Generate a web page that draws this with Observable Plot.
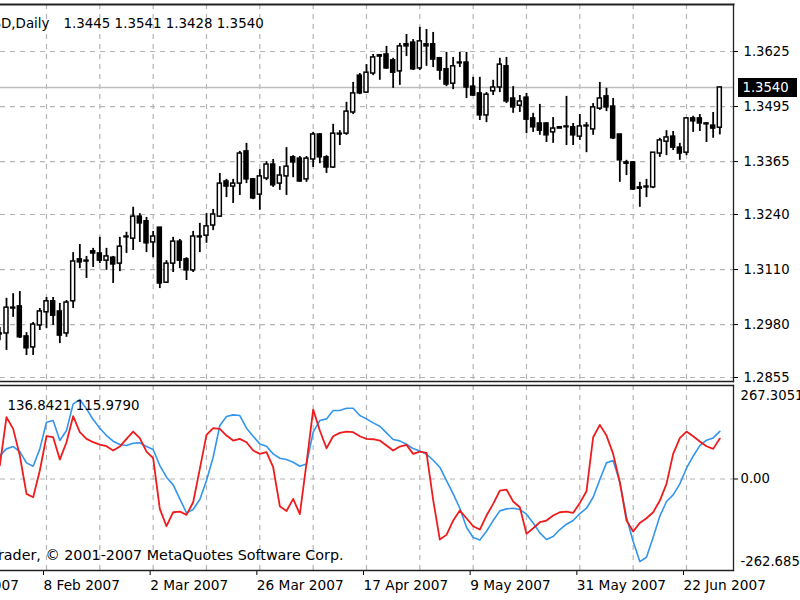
<!DOCTYPE html>
<html><head><meta charset="utf-8">
<script src="https://cdn.jsdelivr.net/npm/d3@7"></script>
<script src="https://cdn.jsdelivr.net/npm/@observablehq/plot@0.6"></script>
<style>
html,body{margin:0;padding:0;background:#fff;}
#wrap{position:relative;width:800px;height:600px;overflow:hidden;background:#fff;}
#top{position:absolute;left:0;top:0;}
#bot{position:absolute;left:0;top:383px;}
</style></head><body>
<div id="wrap"><div id="top"></div><div id="bot"></div></div>
<script>
// ---- EURUSD daily candles (bar 0 = 30 Jan 2007 ... bar 108 = 29 Jun 2007) ----
const opens = [1.2959,1.2959,1.3020,1.3023,1.2952,1.2926,1.2978,1.3009,1.3035,1.3011,
1.2959,1.3035,1.3134,1.3129,1.3153,1.3148,1.3131,1.3138,1.3124,1.3186,
1.3183,1.3235,1.3224,1.3174,1.3209,1.3079,1.3124,1.3176,1.3134,1.3108,
1.3186,1.3190,1.3214,1.3235,1.3318,1.3306,1.3313,1.3389,1.3323,1.3287,
1.3325,1.3358,1.3313,1.3330,1.3375,1.3372,1.3323,1.3370,1.3429,1.3375,
1.3351,1.3431,1.3431,1.3481,1.3568,1.3528,1.3573,1.3613,1.3618,1.3604,
1.3578,1.3642,1.3646,1.3585,1.3642,1.3642,1.3609,1.3583,1.3549,1.3599,
1.3599,1.3542,1.3526,1.3474,1.3531,1.3540,1.3590,1.3514,1.3497,1.3516,
1.3467,1.3455,1.3455,1.3434,1.3443,1.3448,1.3446,1.3424,1.3450,1.3441,
1.3490,1.3519,1.3495,1.3429,1.3363,1.3363,1.3304,1.3304,1.3304,1.3384,
1.3412,1.3424,1.3398,1.3386,1.3467,1.3467,1.3455,1.3450,1.3445];
const highs = [1.2973,1.3042,1.3053,1.3058,1.2961,1.2985,1.3018,1.3044,1.3044,1.3030,
1.3037,1.3150,1.3169,1.3141,1.3160,1.3186,1.3160,1.3141,1.3186,1.3198,
1.3257,1.3242,1.3233,1.3200,1.3209,1.3131,1.3186,1.3181,1.3138,1.3200,
1.3219,1.3242,1.3252,1.3337,1.3323,1.3323,1.3389,1.3408,1.3325,1.3346,
1.3365,1.3370,1.3353,1.3398,1.3379,1.3377,1.3377,1.3434,1.3431,1.3379,
1.3453,1.3438,1.3505,1.3552,1.3573,1.3594,1.3618,1.3618,1.3637,1.3609,
1.3644,1.3665,1.3653,1.3682,1.3677,1.3670,1.3611,1.3623,1.3611,1.3623,
1.3623,1.3564,1.3564,1.3528,1.3557,1.3609,1.3611,1.3542,1.3521,1.3526,
1.3479,1.3500,1.3457,1.3469,1.3448,1.3519,1.3455,1.3476,1.3457,1.3502,
1.3552,1.3538,1.3514,1.3429,1.3368,1.3365,1.3316,1.3323,1.3386,1.3420,
1.3438,1.3436,1.3408,1.3469,1.3472,1.3476,1.3457,1.3481,1.3541];
const lows = [1.2942,1.2919,1.2997,1.2947,1.2907,1.2907,1.2966,1.2971,1.2978,1.2935,
1.2950,1.3018,1.3112,1.3089,1.3115,1.3124,1.3108,1.3077,1.3105,1.3148,
1.3155,1.3174,1.3150,1.3138,1.3065,1.3077,1.3103,1.3112,1.3084,1.3103,
1.3150,1.3172,1.3202,1.3233,1.3280,1.3266,1.3285,1.3313,1.3275,1.3250,
1.3320,1.3304,1.3297,1.3285,1.3327,1.3316,1.3316,1.3351,1.3360,1.3337,
1.3349,1.3403,1.3427,1.3476,1.3523,1.3526,1.3568,1.3557,1.3583,1.3538,
1.3545,1.3613,1.3580,1.3580,1.3590,1.3587,1.3557,1.3542,1.3535,1.3587,
1.3514,1.3519,1.3462,1.3457,1.3521,1.3528,1.3502,1.3479,1.3481,1.3431,
1.3434,1.3427,1.3410,1.3408,1.3443,1.3403,1.3403,1.3415,1.3386,1.3427,
1.3486,1.3483,1.3417,1.3316,1.3332,1.3297,1.3257,1.3280,1.3301,1.3375,
1.3379,1.3391,1.3368,1.3379,1.3434,1.3436,1.3410,1.3420,1.3428];
const closes = [1.2957,1.3020,1.3018,1.2950,1.2924,1.2980,1.3011,1.3035,1.3001,1.2954,
1.3032,1.3129,1.3127,1.3131,1.3148,1.3131,1.3141,1.3122,1.3164,1.3188,
1.3235,1.3219,1.3172,1.3188,1.3077,1.3124,1.3176,1.3131,1.3108,1.3188,
1.3188,1.3212,1.3240,1.3313,1.3306,1.3313,1.3384,1.3323,1.3278,1.3330,
1.3358,1.3309,1.3332,1.3353,1.3363,1.3318,1.3372,1.3429,1.3375,1.3351,
1.3431,1.3429,1.3483,1.3526,1.3526,1.3575,1.3611,1.3616,1.3585,1.3575,
1.3637,1.3637,1.3583,1.3649,1.3637,1.3606,1.3580,1.3547,1.3590,1.3597,
1.3540,1.3521,1.3474,1.3523,1.3540,1.3594,1.3507,1.3493,1.3507,1.3464,
1.3446,1.3438,1.3427,1.3443,1.3446,1.3446,1.3427,1.3448,1.3448,1.3493,
1.3514,1.3493,1.3420,1.3368,1.3360,1.3299,1.3301,1.3306,1.3386,1.3415,
1.3422,1.3398,1.3384,1.3467,1.3460,1.3455,1.3453,1.3443,1.3540];

// ---- CCI indicator lines ----
const cciBlue = [67.3,86.5,93.2,78.8,46.3,36.7,86.5,163,167.8,110.4,
139.1,215.7,228.1,201.3,170.7,145.8,124.7,108.5,98.9,96,
102.7,103.7,93.2,84.6,38.6,5.1,-16.9,-57.1,-97.3,-87.7,
-59,-4.4,62.5,153.5,179.3,184.1,182.2,145.8,122.8,100.8,
94.1,72.1,59.7,55.8,48.2,36.7,43.4,134.3,167.8,172.6,
196.5,196.5,203.2,203.2,182.2,172.6,161.1,151.5,132.4,113.3,
109.4,99.9,87.4,80.7,71.2,53.9,33.8,-4.4,-42.7,-83.9,
-138.4,-168.1,-174.8,-149.9,-119.3,-91.5,-85.8,-83.9,-87.7,-101.1,
-126,-154.7,-173.8,-165.2,-145.1,-129.8,-119.3,-99.2,-83.9,-52.3,
-1.6,46.3,53,-9.2,-109.7,-179.6,-237,-224.6,-167.1,-106.8,
-64.7,-45.6,-14,31,65.4,96,111.4,118,136.8421];
const cciRed = [39,177.4,143.9,67.3,-42.7,-52.3,24.3,122.8,120,55.8,
105.6,180.3,134.3,115.2,105.6,98.9,94.1,81.7,93.2,115.2,
136.2,117.1,78.8,59.7,-85.8,-135.6,-95.4,-93.4,-103,-66.7,
29,126.7,145.8,143.9,124.7,110.4,115.2,105.6,81.7,72.1,
76.9,33.8,-78,-92,-57,-101,45,199.4,139.1,88.4,
122.8,132.4,136.2,134.3,122.8,115.2,114.2,110.4,96,81.7,
93.2,98,72.1,78.8,75,-60,-173.8,-160.4,-119.3,-90.6,
-112.6,-135.6,-145.1,-104.9,-71.4,-33.2,-30.3,-64.7,-81,-157.6,
-141.3,-124.1,-119.3,-104.9,-95.4,-93.4,-97.3,-68.6,-35,120,
155.4,124.7,72.1,-9.2,-119.3,-150.9,-126,-112.6,-95.4,-61.9,
-14,72.1,117.1,136.2,122.8,107.5,94.1,86.5,115.979];

// ---- axes / labels ----
const priceTicks = [1.2855, 1.2980, 1.3110, 1.3240, 1.3365, 1.3495, 1.3625];
const gridBars = [7, 15, 23, 31, 39, 47, 55, 63, 71, 79, 87, 95, 103];
const labelBars = [-9, 7, 23, 39, 55, 71, 87, 103];
const dateLabels = ["17 Jan 2007", "8 Feb 2007", "2 Mar 2007", "26 Mar 2007", "17 Apr 2007", "9 May 2007", "31 May 2007", "22 Jun 2007"];
const cciTop = [267.3051];
const cciBottom = [-262.685];
const symbolText = ["EURUSD,Daily"];
const ohlcText = ["1.3445 1.3541 1.3428 1.3540"];
const cciText = ["136.8421 115.9790"];
const copyright = ["MetaTrader, \u00a9 2001-2007 MetaQuotes Software Corp."];

const bars = opens.map((o, i) => ({i, open: o, high: highs[i], low: lows[i], close: closes[i]}));
const lastClose = [closes[closes.length - 1]];

const FONT = "DejaVu Sans";
const GRID = "#b4b4b4";
const DASH = "5,5";
const xScale = {type: "linear", domain: [0, 108], range: [-0.67, 719.33]};

const upper = Plot.plot({
  width: 800, height: 383,
  marginTop: 4, marginRight: 67, marginBottom: 2, marginLeft: 0,
  style: {fontFamily: FONT, fontSize: "13px", background: "white", color: "black", overflow: "hidden"},
  x: {...xScale, axis: null},
  y: {domain: [1.2855, 1.3625], range: [377, 51], axis: null},
  marks: [
    Plot.gridX(gridBars, {stroke: GRID, strokeOpacity: 1, strokeWidth: 1.2, strokeDasharray: DASH}),
    Plot.gridY(priceTicks, {stroke: GRID, strokeOpacity: 1, strokeWidth: 1.2, strokeDasharray: DASH}),
    Plot.ruleY(lastClose, {stroke: "#bcbcbc", strokeWidth: 1.4}),
    Plot.ruleX(bars, {x: "i", y1: "low", y2: "high", stroke: "black", strokeWidth: 1.8}),
    Plot.rect(bars, {filter: d => d.close >= d.open, x1: d => d.i - 0.3, x2: d => d.i + 0.3, y1: "open", y2: "close", fill: "white", stroke: "black", strokeWidth: 1.5}),
    Plot.rect(bars, {filter: d => d.close < d.open, x1: d => d.i - 0.3, x2: d => d.i + 0.3, y1: "open", y2: "close", fill: "black", stroke: "black", strokeWidth: 1.5}),
    Plot.axisY(priceTicks, {anchor: "right", tickSize: 4, tickPadding: 6, tickFormat: d3.format(".4f"), label: null, fontSize: 13.2, fill: "black", stroke: "black"}),
    Plot.ruleY(lastClose, {stroke: "black", strokeWidth: 19, insetLeft: 738, insetRight: -64}),
    Plot.text(lastClose, {y: d => d, text: d => d3.format(".4f")(d), frameAnchor: "right", dx: 9, textAnchor: "start", fill: "white", fontSize: 13.2}),
    Plot.text(symbolText, {frameAnchor: "top-left", dx: 49, dy: 14, textAnchor: "end", fontSize: 13.4}),
    Plot.text(ohlcText, {frameAnchor: "top-left", dx: 63, dy: 14, textAnchor: "start", fontSize: 13.4}),
    Plot.frame({anchor: "top", stroke: "#222", strokeWidth: 2}),
    Plot.frame({anchor: "right", stroke: "#222", strokeWidth: 1.3}),
    Plot.frame({anchor: "bottom", stroke: "#222", strokeWidth: 1.3})
  ]
});
document.getElementById("top").appendChild(upper);

const lower = Plot.plot({
  width: 800, height: 217,
  marginTop: 2, marginRight: 67, marginBottom: 30, marginLeft: 0,
  style: {fontFamily: FONT, fontSize: "13px", background: "white", color: "black", overflow: "hidden"},
  x: {...xScale, axis: null},
  y: {domain: [-262.685, 267.3051], range: [187, 2.4], axis: null},
  marks: [
    Plot.gridX(gridBars, {stroke: GRID, strokeOpacity: 1, strokeWidth: 1.2, strokeDasharray: DASH}),
    Plot.gridY([0], {stroke: GRID, strokeOpacity: 1, strokeWidth: 1.2, strokeDasharray: DASH}),
    Plot.line(cciBlue, {x: (d, i) => i, y: d => d, stroke: "#3296ee", strokeWidth: 1.6}),
    Plot.line(cciRed, {x: (d, i) => i, y: d => d, stroke: "#ee1c1c", strokeWidth: 1.8}),
    Plot.axisY([0], {anchor: "right", tickSize: 4, tickPadding: 3, tickFormat: d3.format(".2f"), label: null, fontSize: 13.2, fill: "black", stroke: "black"}),
    Plot.text(cciTop, {y: d => d, text: d => String(d), frameAnchor: "right", dx: 7, dy: 10, textAnchor: "start", fontSize: 13.2}),
    Plot.text(cciBottom, {y: d => d, text: d => String(d), frameAnchor: "right", dx: 7, dy: -9, textAnchor: "start", fontSize: 13.2}),
    Plot.axisX(labelBars, {anchor: "bottom", tickSize: 5, tickPadding: 5, textAnchor: "start", dx: -3, label: null, fontSize: 13.7, fill: "black", stroke: "black",
      tickFormat: d => dateLabels[labelBars.indexOf(d)]}),
    Plot.text(cciText, {frameAnchor: "top-left", dx: 7, dy: 15, textAnchor: "start", fontSize: 13.4}),
    Plot.text(copyright, {frameAnchor: "bottom-left", dx: 343, dy: -11, textAnchor: "end", fontSize: 14.3}),
    Plot.frame({anchor: "top", stroke: "#222", strokeWidth: 1.3}),
    Plot.frame({anchor: "right", stroke: "#222", strokeWidth: 1.3}),
    Plot.frame({anchor: "bottom", stroke: "#222", strokeWidth: 1.3})
  ]
});
document.getElementById("bot").appendChild(lower);
</script>
</body></html>
